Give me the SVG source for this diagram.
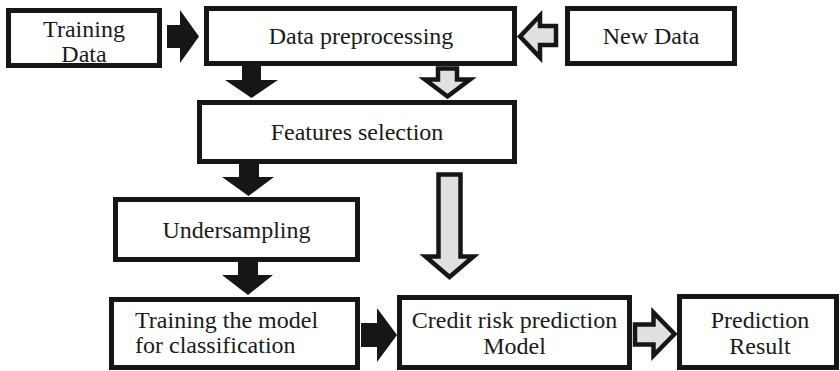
<svg xmlns="http://www.w3.org/2000/svg" width="840" height="371" viewBox="0 0 840 371">
<style>
.box{fill:#fff;stroke:#161616;stroke-width:5}
.t{font-family:"Liberation Serif","Times New Roman",serif;font-size:24px;fill:#1a1a1a}
.c{text-anchor:middle}
.blk{fill:#161616;stroke:none}
.gry{fill:#e0e0e0;stroke:#161616;stroke-width:4.5;stroke-linejoin:miter}
</style>
<rect width="840" height="371" fill="#fff"/>
<g id="connectors">
<polygon class="blk" points="167,25 180,25 180,10 199,36.5 180,63 180,48 167,48"/>
<polygon class="gry" points="556,26 540,26 540,15.5 520,36.5 540,57.5 540,45 556,45"/>
<polygon class="blk" points="242,66 261,66 261,80 278,80 251.5,98 225,80 242,80"/>
<polygon class="gry" points="438,68.5 457,68.5 457,79.5 470,79.5 447.5,96.5 425,79.5 438,79.5"/>
<polygon class="blk" points="239,164 259,164 259,177 274,177 248.5,196 222,177 239,177"/>
<polygon class="gry" points="438.5,174.5 460.5,174.5 460.5,256.5 473.5,256.5 449.5,277 425.5,256.5 438.5,256.5"/>
<polygon class="blk" points="238,262 258,262 258,275 273,275 248,295 222,275 238,275"/>
<polygon class="blk" points="361,323 377,323 377,308 397,335 377,362 377,347 361,347"/>
<polygon class="gry" points="635,324.5 653.5,324.5 653.5,312.5 674.5,334 653.5,355.5 653.5,344.5 635,344.5"/>
</g>
<g id="training-data">
<rect class="box" x="8.5" y="10.5" width="151" height="55"/>
<text class="t c" x="84" y="37">Training</text>
<text class="t c" x="84" y="62">Data</text>
</g>
<g id="data-preprocessing">
<rect class="box" x="206.5" y="8.5" width="308" height="55"/>
<text class="t c" x="361" y="44">Data preprocessing</text>
</g>
<g id="new-data">
<rect class="box" x="567.5" y="8.5" width="167" height="55"/>
<text class="t c" x="651" y="44">New Data</text>
</g>
<g id="features-selection">
<rect class="box" x="199.5" y="102.5" width="315" height="59"/>
<text class="t c" x="357" y="140">Features selection</text>
</g>
<g id="undersampling">
<rect class="box" x="115.5" y="199.5" width="242" height="60"/>
<text class="t c" x="236.5" y="237.5">Undersampling</text>
</g>
<g id="training-model">
<rect class="box" x="111.5" y="299.5" width="246" height="68"/>
<text class="t" x="135" y="328">Training the model</text>
<text class="t" x="135" y="353">for classification</text>
</g>
<g id="credit-risk-model">
<rect class="box" x="399.5" y="297.5" width="230" height="70"/>
<text class="t c" x="514.5" y="328">Credit risk prediction</text>
<text class="t c" x="514.5" y="354">Model</text>
</g>
<g id="prediction-result">
<rect class="box" x="679.5" y="296.5" width="157" height="71"/>
<text class="t c" x="760" y="328">Prediction</text>
<text class="t c" x="760" y="354">Result</text>
</g>
</svg>
